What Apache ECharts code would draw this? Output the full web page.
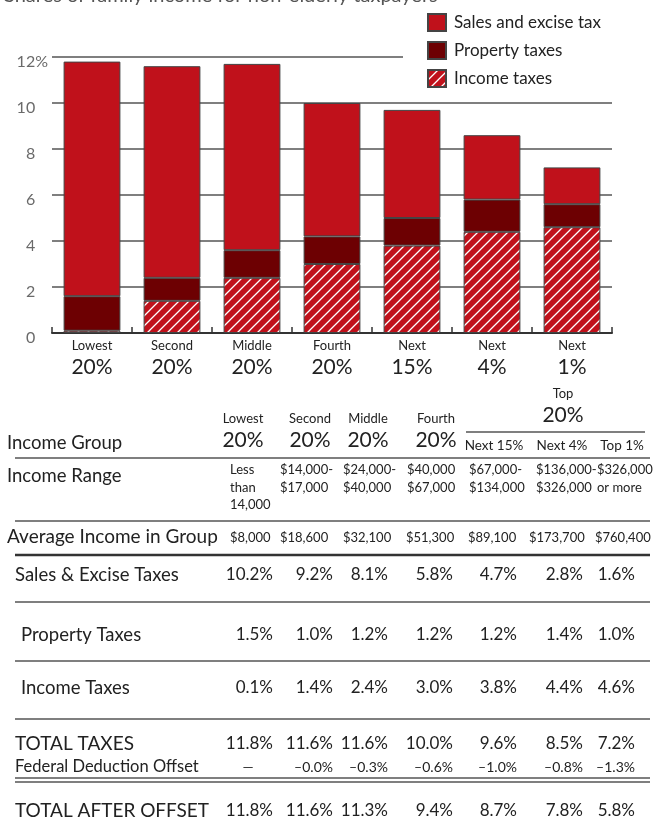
<!DOCTYPE html>
<html><head><meta charset="utf-8">
<script src="https://cdn.jsdelivr.net/npm/echarts@6/dist/echarts.min.js"></script>
<style>html,body{margin:0;padding:0;background:#fff}#c{width:653px;height:820px}</style>
</head><body><div id="c"></div>
<script>
// ---------- data ----------
const titleText = 'Shares of family income for non-elderly taxpayers';
const categories = [['Lowest','20%'],['Second','20%'],['Middle','20%'],['Fourth','20%'],['Next','15%'],['Next','4%'],['Next','1%']];
const seriesNames = ['Sales and excise tax','Property taxes','Income taxes'];
const salesTax    = [10.2, 9.2, 8.1, 5.8, 4.7, 2.8, 1.6];
const propertyTax = [1.5, 1.0, 1.2, 1.2, 1.2, 1.4, 1.0];
const incomeTax   = [0.1, 1.4, 2.4, 3.0, 3.8, 4.4, 4.6];
const totalTaxes  = [11.8, 11.6, 11.6, 10.0, 9.6, 8.5, 7.2];
const fedOffset   = ['—','–0.0%','–0.3%','–0.6%','–1.0%','–0.8%','–1.3%'];
const totalAfter  = [11.8, 11.6, 11.3, 9.4, 8.7, 7.8, 5.8];
const yTicks = [0, 2, 4, 6, 8, 10, 12];
const groupLabels = ['Lowest','Second','Middle','Fourth'];
const groupPct = ['20%','20%','20%','20%'];
const topGroup = ['Top','20%'];
const topSub = ['Next 15%','Next 4%','Top 1%'];
const incomeRange = [['Less','than','14,000'],['$14,000-','$17,000'],['$24,000-','$40,000'],['$40,000','$67,000'],['$67,000-','$134,000'],['$136,000-','$326,000'],['$326,000','or more']];
const avgIncome = ['$8,000','$18,600','$32,100','$51,300','$89,100','$173,700','$760,400'];
const rowNames = ['Income Group','Income Range','Average Income in Group','Sales & Excise Taxes','Property Taxes','Income Taxes','TOTAL TAXES','Federal Deduction Offset','TOTAL AFTER OFFSET'];

// ---------- styling ----------
const RED = '#C0111B', DARK = '#6D0002', FONT = 'Lato, "Open Sans", sans-serif', INK = '#222';
function hatch(){
  const c = document.createElement('canvas'); c.width = 10; c.height = 10;
  const g = c.getContext('2d');
  g.fillStyle = RED; g.fillRect(0,0,10,10);
  g.strokeStyle = '#fff'; g.lineWidth = 1.3; g.beginPath();
  g.moveTo(-1,11); g.lineTo(11,-1);
  g.moveTo(-1,1); g.lineTo(1,-1);
  g.moveTo(9,11); g.lineTo(11,9);
  g.stroke();
  return c;
}
const pct = v => v.toFixed(1) + '%';
const chart = echarts.init(document.getElementById('c'), null, {renderer:'canvas'});
const barBase = {type:'bar', stack:'t', barWidth:'71%'};
chart.setOption({
  animation:false,
  textStyle:{fontFamily:FONT},
  grid:{left:52, right:41, top:57, bottom:487, containLabel:false},
  legend:{
    data:[seriesNames[0], seriesNames[1], seriesNames[2]],
    orient:'vertical', left:427, top:13, padding:0, icon:'rect', itemWidth:18, itemHeight:17, itemGap:9,
    textStyle:{fontSize:17, color:INK, fontFamily:FONT, padding:[0,0,0,3]}
  },
  xAxis:{
    type:'category', data: categories.map(c => c.join('\n')),
    axisLine:{lineStyle:{color:'#333', width:2}},
    axisTick:{show:true, inside:true, length:6, lineStyle:{color:'#333', width:1.5}},
    axisLabel:{margin:5, interval:0, formatter: v => { const p = v.split('\n'); return '{a|'+p[0]+'}\n{b|'+p[1]+'}'; },
      rich:{a:{fontSize:13, lineHeight:16, color:INK, fontFamily:FONT}, b:{fontSize:21, lineHeight:26, color:INK, fontFamily:FONT}}}
  },
  yAxis:{
    type:'value', min:yTicks[0], max:yTicks[yTicks.length-1], interval:2,
    axisLine:{show:false}, axisTick:{show:false},
    splitLine:{lineStyle:{color:['#555','#555','#555','#555','#555','#555','rgba(0,0,0,0)'], width:1.5}},
    axisLabel:{margin:4, padding:[9,0,0,0], formatter: v => v === 12 ? '{n|12%}' : '{n|'+v+'}{h|%}',
      rich:{n:{fontSize:16, color:'#6a6a6a', fontFamily:FONT}, h:{fontSize:16, color:'rgba(0,0,0,0)', fontFamily:FONT}}}
  },
  series:[
    Object.assign({name:seriesNames[2], data:incomeTax, itemStyle:{color:{image:hatch(), repeat:'repeat'}, borderColor:'#444', borderWidth:1}}, barBase),
    Object.assign({name:seriesNames[1], data:propertyTax, itemStyle:{color:DARK, borderColor:'#444', borderWidth:1}}, barBase),
    Object.assign({name:seriesNames[0], data:salesTax, itemStyle:{color:RED, borderColor:'#444', borderWidth:1}}, barBase)
  ]
});

// ---------- decorations & table ----------
const els = [];
function txt(x, y, text, size, align, color, extra){
  els.push({type:'text', x:x, y:y, silent:true, style:Object.assign({text:text, fontSize:size, fontFamily:FONT, fill:color||INK,
    align:align||'left', textAlign:align||'left', verticalAlign:'middle', textVerticalAlign:'middle'}, extra||{})});
}
function line(x1, y, x2, w, color){
  els.push({type:'line', silent:true, shape:{x1:x1, y1:y, x2:x2, y2:y}, style:{stroke:color||'#555', lineWidth:w||1.5}});
}
// title (cut at the top edge)
els.push({type:'text', x:4, y:6, silent:true, style:{text:titleText, fontSize:20, fontFamily:FONT, fill:'#555', align:'left', textAlign:'left', verticalAlign:'bottom', textVerticalAlign:'bottom'}});
// 12% gridline (stops before the legend)
const y12 = chart.convertToPixel({yAxisIndex:0}, 12);
line(52, y12, 403, 1.5, '#555');

const pctRight = [273, 333, 388, 453, 517, 583, 635];
const headCenter = [243, 310, 368, 436];
const subCenter = [494, 562, 622];
const rangeLeft = [230, 280, 343, 407, 469, 536, 597];
const avgLeft = [230, 280, 343, 406, 468, 529, 595];
const LBL = 18.5;

// header
groupLabels.forEach((t,i) => txt(headCenter[i], 419, t, 13, 'center'));
groupPct.forEach((t,i) => txt(headCenter[i], 440, t, 21, 'center'));
txt(563, 394, topGroup[0], 13, 'center');
txt(563, 415, topGroup[1], 21, 'center');
line(466, 432, 645, 1.5);
topSub.forEach((t,i) => txt(subCenter[i], 446, t, 13.5, 'center'));
txt(7, 443, rowNames[0], LBL, 'left');
line(15, 458, 650, 1.5);
// income range
txt(7, 476, rowNames[1], LBL, 'left');
incomeRange.forEach((arr,i) => arr.forEach((t,j) => txt(rangeLeft[i], 470 + j*17.5, t, 13, 'left')));
line(15, 521, 650, 1.5);
// average income
txt(7, 537, rowNames[2], 19, 'left');
avgIncome.forEach((t,i) => txt(avgLeft[i], 538, t, 13, 'left'));
line(15, 555, 650, 2.5, '#333');
// tax rows
txt(15, 575, rowNames[3], LBL, 'left');
salesTax.forEach((v,i) => txt(pctRight[i], 575, pct(v), 17, 'right'));
line(15, 602, 650, 1.5);
txt(21, 635, rowNames[4], LBL, 'left');
propertyTax.forEach((v,i) => txt(pctRight[i], 635, pct(v), 17, 'right'));
line(15, 661, 650, 1.5);
txt(21, 688, rowNames[5], LBL, 'left');
incomeTax.forEach((v,i) => txt(pctRight[i], 688, pct(v), 17, 'right'));
line(15, 719, 650, 1.5);
txt(15, 744, rowNames[6], 19, 'left');
totalTaxes.forEach((v,i) => txt(pctRight[i], 744, pct(v), 17, 'right'));
txt(15, 767, rowNames[7], 16.5, 'left');
fedOffset.forEach((t,i) => t === '—' ? txt(pctRight[i]-25, 767, t, 14, 'center') : txt(pctRight[i], 767, t, 14, 'right'));
line(15, 778, 650, 1.3);
line(15, 782, 650, 1.3);
txt(15, 811, rowNames[8], 19, 'left');
totalAfter.forEach((v,i) => txt(pctRight[i], 811, pct(v), 17, 'right'));

chart.setOption({graphic:{elements:els}});
</script></body></html>
